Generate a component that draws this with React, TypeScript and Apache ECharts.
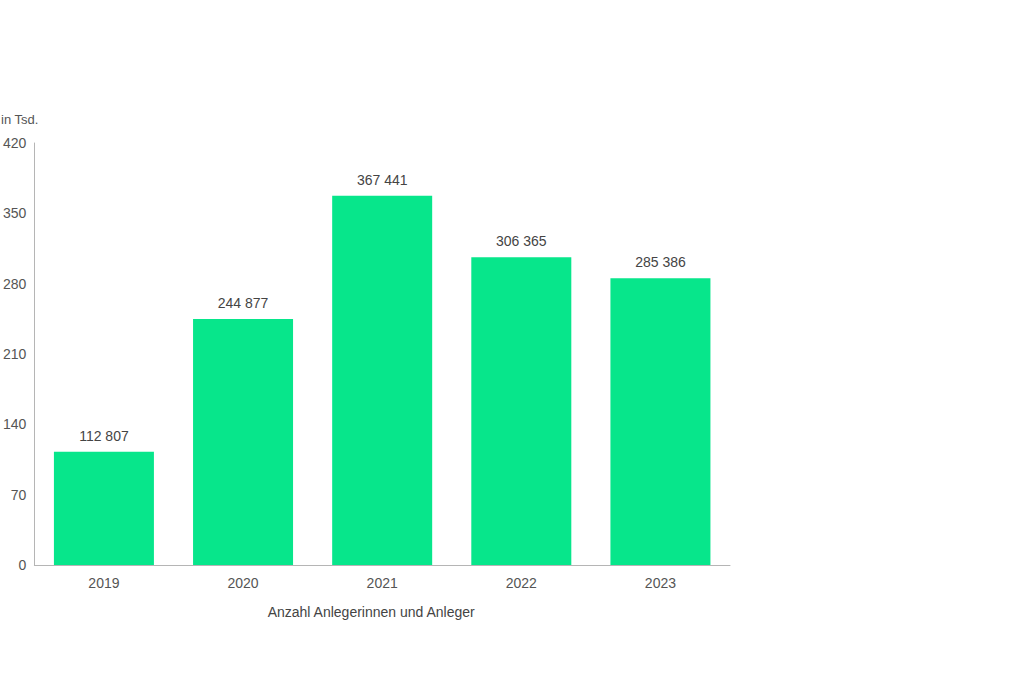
import React, { useEffect, useRef } from "react";
import * as echarts from "echarts";

const categories = ["2019", "2020", "2021", "2022", "2023"];
const investorsTsd = [112.807, 244.877, 367.441, 306.365, 285.386];
const yMax = 420;
const yInterval = 70;
const yAxisTitle = "in Tsd.";
const xAxisTitle = "Anzahl Anlegerinnen und Anleger";

const fmtThousands = (v: number) => {
  const n = Math.round(v * 1000);
  return String(n).replace(/\B(?=(\d{3})+(?!\d))/g, " ");
};

export default function App() {
  const ref = useRef<HTMLDivElement>(null);
  useEffect(() => {
    if (!ref.current) return;
    const chart = echarts.init(ref.current, null, { renderer: "svg" });
    const font = "Liberation Sans, Arial, sans-serif";
    chart.setOption({
      animation: false,
      backgroundColor: "#ffffff",
      textStyle: { fontFamily: font },
      grid: { left: 32, right: 294, top: 143, bottom: 117, containLabel: false },
      graphic: [
        {
          type: "text",
          left: 1,
          top: 113,
          style: { text: yAxisTitle, fontSize: 13, fill: "#555", fontFamily: font },
        },
      ],
      xAxis: {
        type: "category",
        data: categories,
        axisLine: { lineStyle: { color: "#b5b5b5", width: 1 } },
        axisTick: { show: false },
        axisLabel: { color: "#555", fontSize: 14, margin: 11, fontFamily: font },
        name: xAxisTitle,
        nameLocation: "middle",
        nameGap: 40,
        nameTextStyle: { color: "#444", fontSize: 14, fontFamily: font, padding: [0, 22, 0, 0] },
      },
      yAxis: {
        type: "value",
        min: 0,
        max: yMax,
        interval: yInterval,
        axisLine: { show: true, lineStyle: { color: "#b5b5b5", width: 1 } },
        axisTick: { show: false },
        splitLine: { show: false },
        axisLabel: { color: "#555", fontSize: 14, margin: 8, fontFamily: font },
      },
      series: [
        {
          type: "bar",
          data: investorsTsd,
          barWidth: 100,
          itemStyle: { color: "#07E68B" },
          label: {
            show: true,
            position: "top",
            distance: 9,
            color: "#444",
            fontSize: 14,
            fontFamily: font,
            formatter: (p: any) => fmtThousands(p.value),
          },
        },
      ],
    });
    return () => chart.dispose();
  }, []);
  return (
    <div
      ref={ref}
      style={{ position: "absolute", left: 0, top: 0, width: 1024, height: 682 }}
    />
  );
}
